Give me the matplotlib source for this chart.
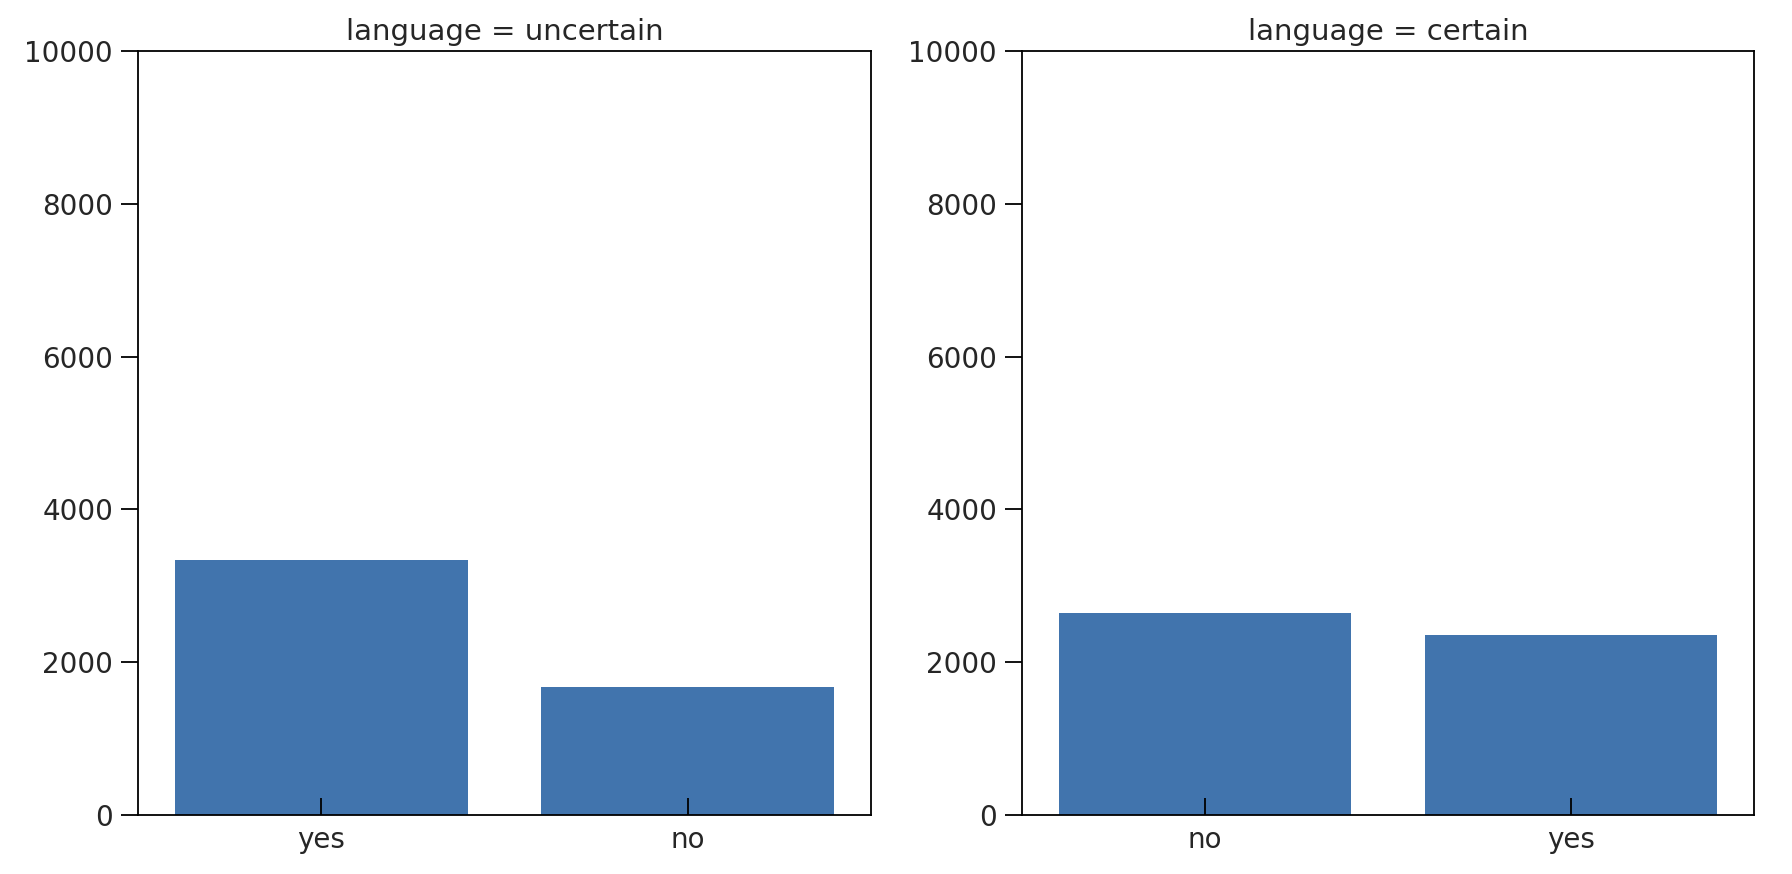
import numpy as np
import matplotlib
matplotlib.use('Agg')
import matplotlib.pyplot as plt

# counts per answer, one panel per language group
titles = ['language = uncertain', 'language = certain']
cats_uncertain = ['yes', 'no']
vals_uncertain = [3340, 1680]
cats_certain = ['no', 'yes']
vals_certain = [2650, 2350]

bar_color = '#4174AD'
text_color = '#262626'

fig = plt.figure(figsize=(17.92, 8.74), dpi=100)
ax1 = fig.add_axes([138 / 1792, 1 - 815 / 874, 733 / 1792, 764 / 874])
ax2 = fig.add_axes([1022 / 1792, 1 - 815 / 874, 732 / 1792, 764 / 874])

panels = [(ax1, cats_uncertain, vals_uncertain, titles[0]),
          (ax2, cats_certain, vals_certain, titles[1])]

for ax, cats, vals, title in panels:
    x = np.arange(len(cats))
    ax.bar(x, vals, width=0.8, color=bar_color, zorder=1)
    ax.set_xticks(x)
    ax.set_xticklabels(cats)
    ax.set_xlim(-0.5, len(cats) - 0.5)
    ax.set_ylim(0, 10000)
    ax.set_yticks([0, 2000, 4000, 6000, 8000, 10000])
    ax.tick_params(axis='x', direction='in', length=12, width=1.3, labelsize=20,
                   pad=8, labelcolor=text_color)
    ax.tick_params(axis='y', direction='out', length=12, width=1.3, labelsize=20,
                   pad=6, labelcolor=text_color)
    for s in ax.spines.values():
        s.set_linewidth(1.3)
    ax.set_title(title, fontsize=21, pad=8, color=text_color)

fig.savefig('out.png', dpi=100)
